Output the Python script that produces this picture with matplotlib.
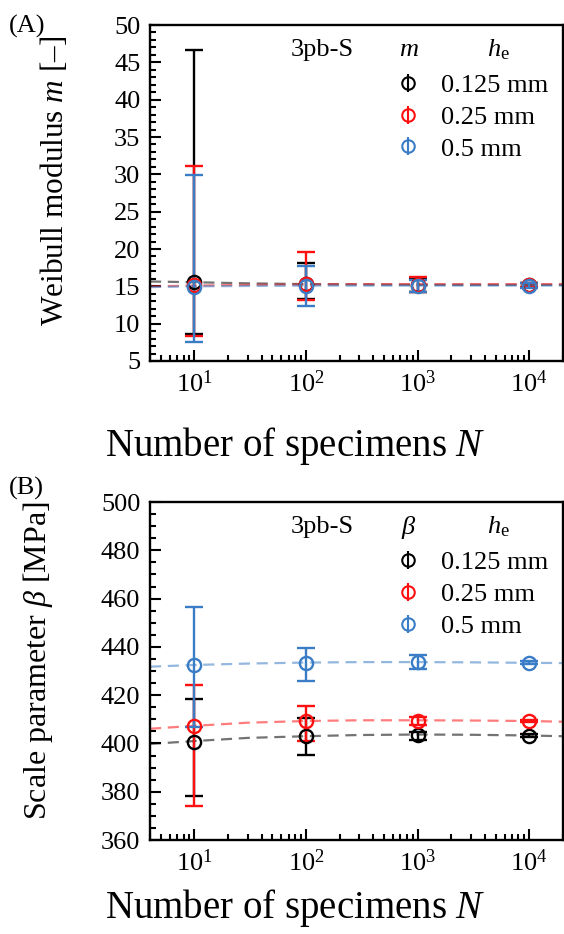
import matplotlib
matplotlib.use("Agg")
import matplotlib.pyplot as plt
import numpy as np
from matplotlib.lines import Line2D
from matplotlib.legend_handler import HandlerTuple
from matplotlib.ticker import LogLocator, MultipleLocator, NullFormatter

plt.rcParams['font.family'] = 'Liberation Serif'
plt.rcParams['mathtext.fontset'] = 'custom'
plt.rcParams['mathtext.rm'] = 'Liberation Serif'
plt.rcParams['mathtext.it'] = 'Liberation Serif:italic'

N = [10, 100, 1000, 10000]
he_labels = ['0.125 mm', '0.25 mm', '0.5 mm']
colors = ['#000000', '#ff1010', '#3a7dc6']

# Weibull modulus m (mean, lower, upper) per element size
m_mean = [[15.6, 15.3, 15.2, 15.2],
          [15.2, 15.3, 15.2, 15.2],
          [14.9, 15.1, 15.1, 15.1]]
m_low = [[8.6, 13.3, 14.3, 14.9],
         [8.4, 13.2, 14.2, 14.9],
         [7.6, 12.3, 14.3, 14.8]]
m_high = [[46.6, 18.1, 16.1, 15.5],
          [31.1, 19.6, 16.2, 15.5],
          [29.9, 17.7, 15.9, 15.4]]

# scale parameter beta [MPa]
b_mean = [[400.6, 403.0, 403.3, 403.2],
          [407.1, 409.4, 409.4, 409.3],
          [432.3, 433.4, 433.7, 433.4]]
b_low = [[378.1, 395.4, 401.3, 402.6],
         [374.2, 400.9, 407.6, 408.8],
         [406.8, 426.0, 430.9, 432.8]]
b_high = [[418.4, 410.4, 404.6, 403.8],
          [424.4, 415.5, 411.0, 409.8],
          [456.4, 439.5, 436.5, 434.0]]

# fitted trend curves
fit_N = [4, 10, 30, 100, 300, 1000, 3000, 10000, 20000]
m_fit = [[15.65, 15.55, 15.4, 15.3, 15.25, 15.2, 15.2, 15.2, 15.2],
         [15.0, 15.1, 15.2, 15.25, 15.3, 15.3, 15.3, 15.3, 15.3],
         [14.9, 15.0, 15.05, 15.1, 15.1, 15.1, 15.1, 15.1, 15.1]]
b_fit = [[399.8, 401.0, 402.3, 403.0, 403.5, 403.7, 403.6, 403.3, 403.0],
         [406.1, 407.3, 408.6, 409.3, 409.6, 409.6, 409.5, 409.3, 409.0],
         [431.8, 432.5, 433.1, 433.5, 433.7, 433.7, 433.6, 433.4, 433.3]]

fig = plt.figure(figsize=(5.64, 9.34), dpi=100)
axA = fig.add_axes([0.266, 0.6135, 0.732, 0.3597])
axB = fig.add_axes([0.266, 0.1006, 0.732, 0.3619])


def draw(ax, mean, low, high, fit, sym):
    for i in range(3):
        c = colors[i]
        ax.plot(fit_N, fit[i], ls=(0, (5, 3)), lw=1.6, color=c, alpha=0.55, zorder=2)
    for i in range(3):
        c = colors[i]
        mu = np.array(mean[i])
        yerr = [mu - np.array(low[i]), np.array(high[i]) - mu]
        ax.errorbar(N, mu, yerr=yerr, fmt='o', mfc='none', mec=c, ms=9.5, mew=1.7,
                    ecolor=c, elinewidth=1.7, capsize=6.5, capthick=1.7, zorder=3)

    ax.set_xscale('log')
    ax.set_xlim(4, 2e4)
    ax.xaxis.set_major_locator(LogLocator(base=10, numticks=10))
    ax.xaxis.set_minor_locator(LogLocator(base=10, subs=np.arange(2, 10), numticks=20))
    ax.xaxis.set_minor_formatter(NullFormatter())
    ax.tick_params(which='both', direction='in', top=False, right=False,
                   labelsize=19, width=1.5, pad=7)
    ax.tick_params(which='major', length=8)
    ax.tick_params(which='minor', length=4.5)
    for s in ax.spines.values():
        s.set_linewidth(1.7)

    ax.set_xlabel('Number of specimens $N$', fontsize=28)

    # legend header
    ax.text(0.416, 0.926, '3pb-S', transform=ax.transAxes, fontsize=19,
            ha='center', va='center')
    ax.text(0.627, 0.926, sym, transform=ax.transAxes, fontsize=19,
            ha='center', va='center')
    ax.text(0.843, 0.926, '$h_\\mathrm{e}$', transform=ax.transAxes, fontsize=19,
            ha='center', va='center')

    handles = []
    for c in colors:
        h1 = Line2D([], [], marker='o', ls='none', mfc='none', mec=c, ms=9, mew=1.5)
        h2 = Line2D([], [], marker='|', ls='none', color=c, ms=13, mew=1.5)
        handles.append((h1, h2))
    ax.legend(handles, he_labels, handler_map={tuple: HandlerTuple(ndivide=1)},
              loc='upper left', bbox_to_anchor=(0.605, 0.856), frameon=False,
              fontsize=19, handlelength=0.6, handletextpad=0.95,
              labelspacing=0.32, borderpad=0, borderaxespad=0)


draw(axA, m_mean, m_low, m_high, m_fit, '$m$')
axA.set_ylim(5, 50)
axA.yaxis.set_major_locator(MultipleLocator(5))
axA.yaxis.set_minor_locator(MultipleLocator(1))
axA.set_ylabel('Weibull modulus $m$ [\u2013]', fontsize=22.5)
axA.yaxis.set_label_coords(-0.194, 0.535)
axA.xaxis.set_label_coords(0.351, -0.19)

draw(axB, b_mean, b_low, b_high, b_fit, '$\\beta$')
axB.set_ylim(360, 500)
axB.yaxis.set_major_locator(MultipleLocator(20))
axB.yaxis.set_minor_locator(MultipleLocator(5))
axB.set_ylabel('Scale parameter $\\beta$ [MPa]', fontsize=23)
axB.yaxis.set_label_coords(-0.230, 0.53)
axB.xaxis.set_label_coords(0.351, -0.14)

fig.text(0.016, 1 - 26 / 934, '(A)', fontsize=19, va='center', ha='left')
fig.text(0.016, 1 - 488 / 934, '(B)', fontsize=19, va='center', ha='left')

fig.savefig('out.png', dpi=100)
